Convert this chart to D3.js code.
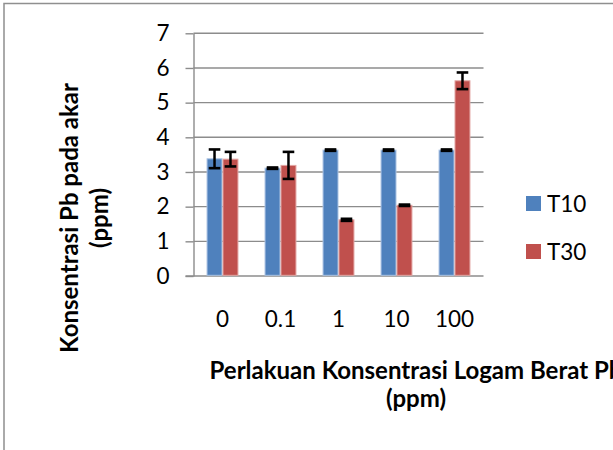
<!DOCTYPE html>
<html>
<head>
<meta charset="utf-8">
<script src="https://cdn.jsdelivr.net/npm/d3@7"></script>
<style>
html,body{margin:0;padding:0;background:#fff;overflow:hidden;}
svg{display:block;}
text{font-family:Lato,"Open Sans",sans-serif;fill:#000;}
</style>
</head>
<body>
<svg id="chart" width="613" height="450"></svg>
<script>
const categories = ["0", "0.1", "1", "10", "100"];
const seriesNames = ["T10", "T30"];
const t10Values = [3.38, 3.11, 3.63, 3.63, 3.63];
const t30Values = [3.37, 3.19, 1.62, 2.04, 5.63];
const t10Errors = [0.27, 0.02, 0.02, 0.02, 0.02];
const t30Errors = [0.21, 0.39, 0.03, 0.02, 0.24];
const yTicks = [0, 1, 2, 3, 4, 5, 6, 7];
const xTitle = ["Perlakuan Konsentrasi Logam Berat Pb", "(ppm)"];
const yTitle = ["Konsentrasi Pb pada akar", "(ppm)"];

const colors = {T10: "#4F81BD", T30: "#C0504D"};
const edge = {T10: "#a9c2e2", T30: "#e2a5a3"};

const svg = d3.select("#chart");

// outer chart frame (extends beyond the crop on the right/bottom)
svg.append("rect").attr("x", 4).attr("y", 3.5).attr("width", 700).attr("height", 600)
  .attr("fill", "none").attr("stroke", "#8f8f8f").attr("stroke-width", 1.5);

const plot = {left: 193.5, right: 483.5, top: 33.3, bottom: 276};

const x0 = d3.scaleBand().domain(categories).range([plot.left, plot.right])
  .paddingInner(0.45).paddingOuter(0.225);
const x1 = d3.scaleBand().domain(seriesNames).range([0, x0.bandwidth()]);
const y = d3.scaleLinear().domain([0, 7]).range([plot.bottom, plot.top]);

// gridlines
svg.append("g").selectAll("line").data(yTicks.filter(d => d > 0)).join("line")
  .attr("x1", plot.left).attr("x2", plot.right)
  .attr("y1", d => y(d)).attr("y2", d => y(d))
  .attr("stroke", "#8c8c8c").attr("stroke-width", 1.4);

// y axis
const yAxis = svg.append("g").attr("transform", `translate(${plot.left},0)`)
  .call(d3.axisLeft(y).tickValues(yTicks).tickSize(8).tickSizeOuter(0).tickPadding(16).tickFormat(d3.format("d")));
yAxis.select(".domain").attr("stroke", "#8c8c8c").attr("stroke-width", 1.4);
yAxis.selectAll(".tick line").attr("stroke", "#8c8c8c").attr("stroke-width", 1.4);
yAxis.selectAll(".tick text").attr("font-family", "Lato").attr("font-size", 22.5).attr("fill", "#000");

// x axis
const xAxis = svg.append("g").attr("transform", `translate(0,${plot.bottom})`)
  .call(d3.axisBottom(x0).tickSize(0).tickSizeOuter(0).tickPadding(51));
xAxis.select(".domain").attr("stroke", "#8c8c8c").attr("stroke-width", 1.4)
  .attr("d", `M${plot.left - 8},0H${plot.right}`);
xAxis.selectAll(".tick text").attr("font-family", "Lato").attr("font-size", 22.5).attr("fill", "#000").attr("dy", "0");

// bars
const rows = categories.map((c, i) => ({
  cat: c,
  vals: [
    {s: "T10", v: t10Values[i], e: t10Errors[i]},
    {s: "T30", v: t30Values[i], e: t30Errors[i]}
  ]
}));

const groups = svg.append("g").selectAll("g").data(rows).join("g")
  .attr("transform", d => `translate(${x0(d.cat)},0)`);

groups.selectAll("rect").data(d => d.vals).join("rect")
  .attr("x", d => x1(d.s) + 0.5)
  .attr("width", x1.bandwidth() - 1)
  .attr("y", d => y(d.v))
  .attr("height", d => y(0) - y(d.v) - 0.7)
  .attr("fill", d => colors[d.s])
  .attr("stroke", d => edge[d.s]).attr("stroke-width", 1);

// error bars
const eb = groups.selectAll("g.err").data(d => d.vals).join("g").attr("class", "err");
const cx = d => x1(d.s) + x1.bandwidth() / 2;
eb.append("line").attr("x1", cx).attr("x2", cx)
  .attr("y1", d => y(d.v + d.e)).attr("y2", d => y(d.v - d.e))
  .attr("stroke", "#000").attr("stroke-width", 2.5);
eb.append("line").attr("x1", d => cx(d) - 5.8).attr("x2", d => cx(d) + 5.8)
  .attr("y1", d => y(d.v + d.e)).attr("y2", d => y(d.v + d.e))
  .attr("stroke", "#000").attr("stroke-width", 2.6);
eb.append("line").attr("x1", d => cx(d) - 5.8).attr("x2", d => cx(d) + 5.8)
  .attr("y1", d => y(d.v - d.e)).attr("y2", d => y(d.v - d.e))
  .attr("stroke", "#000").attr("stroke-width", 2.6);

// legend
const leg = svg.append("g").selectAll("g").data(seriesNames).join("g")
  .attr("transform", (d, i) => `translate(526,${196 + i * 48})`);
leg.append("rect").attr("width", 15).attr("height", 15).attr("fill", d => colors[d]);
leg.append("text").attr("x", 21).attr("y", 15.5).attr("font-size", 22.5).text(d => d);

// x title
svg.append("g").selectAll("text").data(xTitle).join("text")
  .attr("x", 416).attr("y", (d, i) => 379 + i * 28)
  .attr("text-anchor", "middle").attr("font-weight", "bold").attr("font-size", 24)
  .text(d => d);

// y title
svg.append("g").selectAll("text").data(yTitle).join("text")
  .attr("transform", (d, i) => `translate(${78 + i * 30},218) rotate(-90)`)
  .attr("text-anchor", "middle").attr("font-weight", "bold").attr("font-size", 24)
  .text(d => d);
</script>
</body>
</html>
